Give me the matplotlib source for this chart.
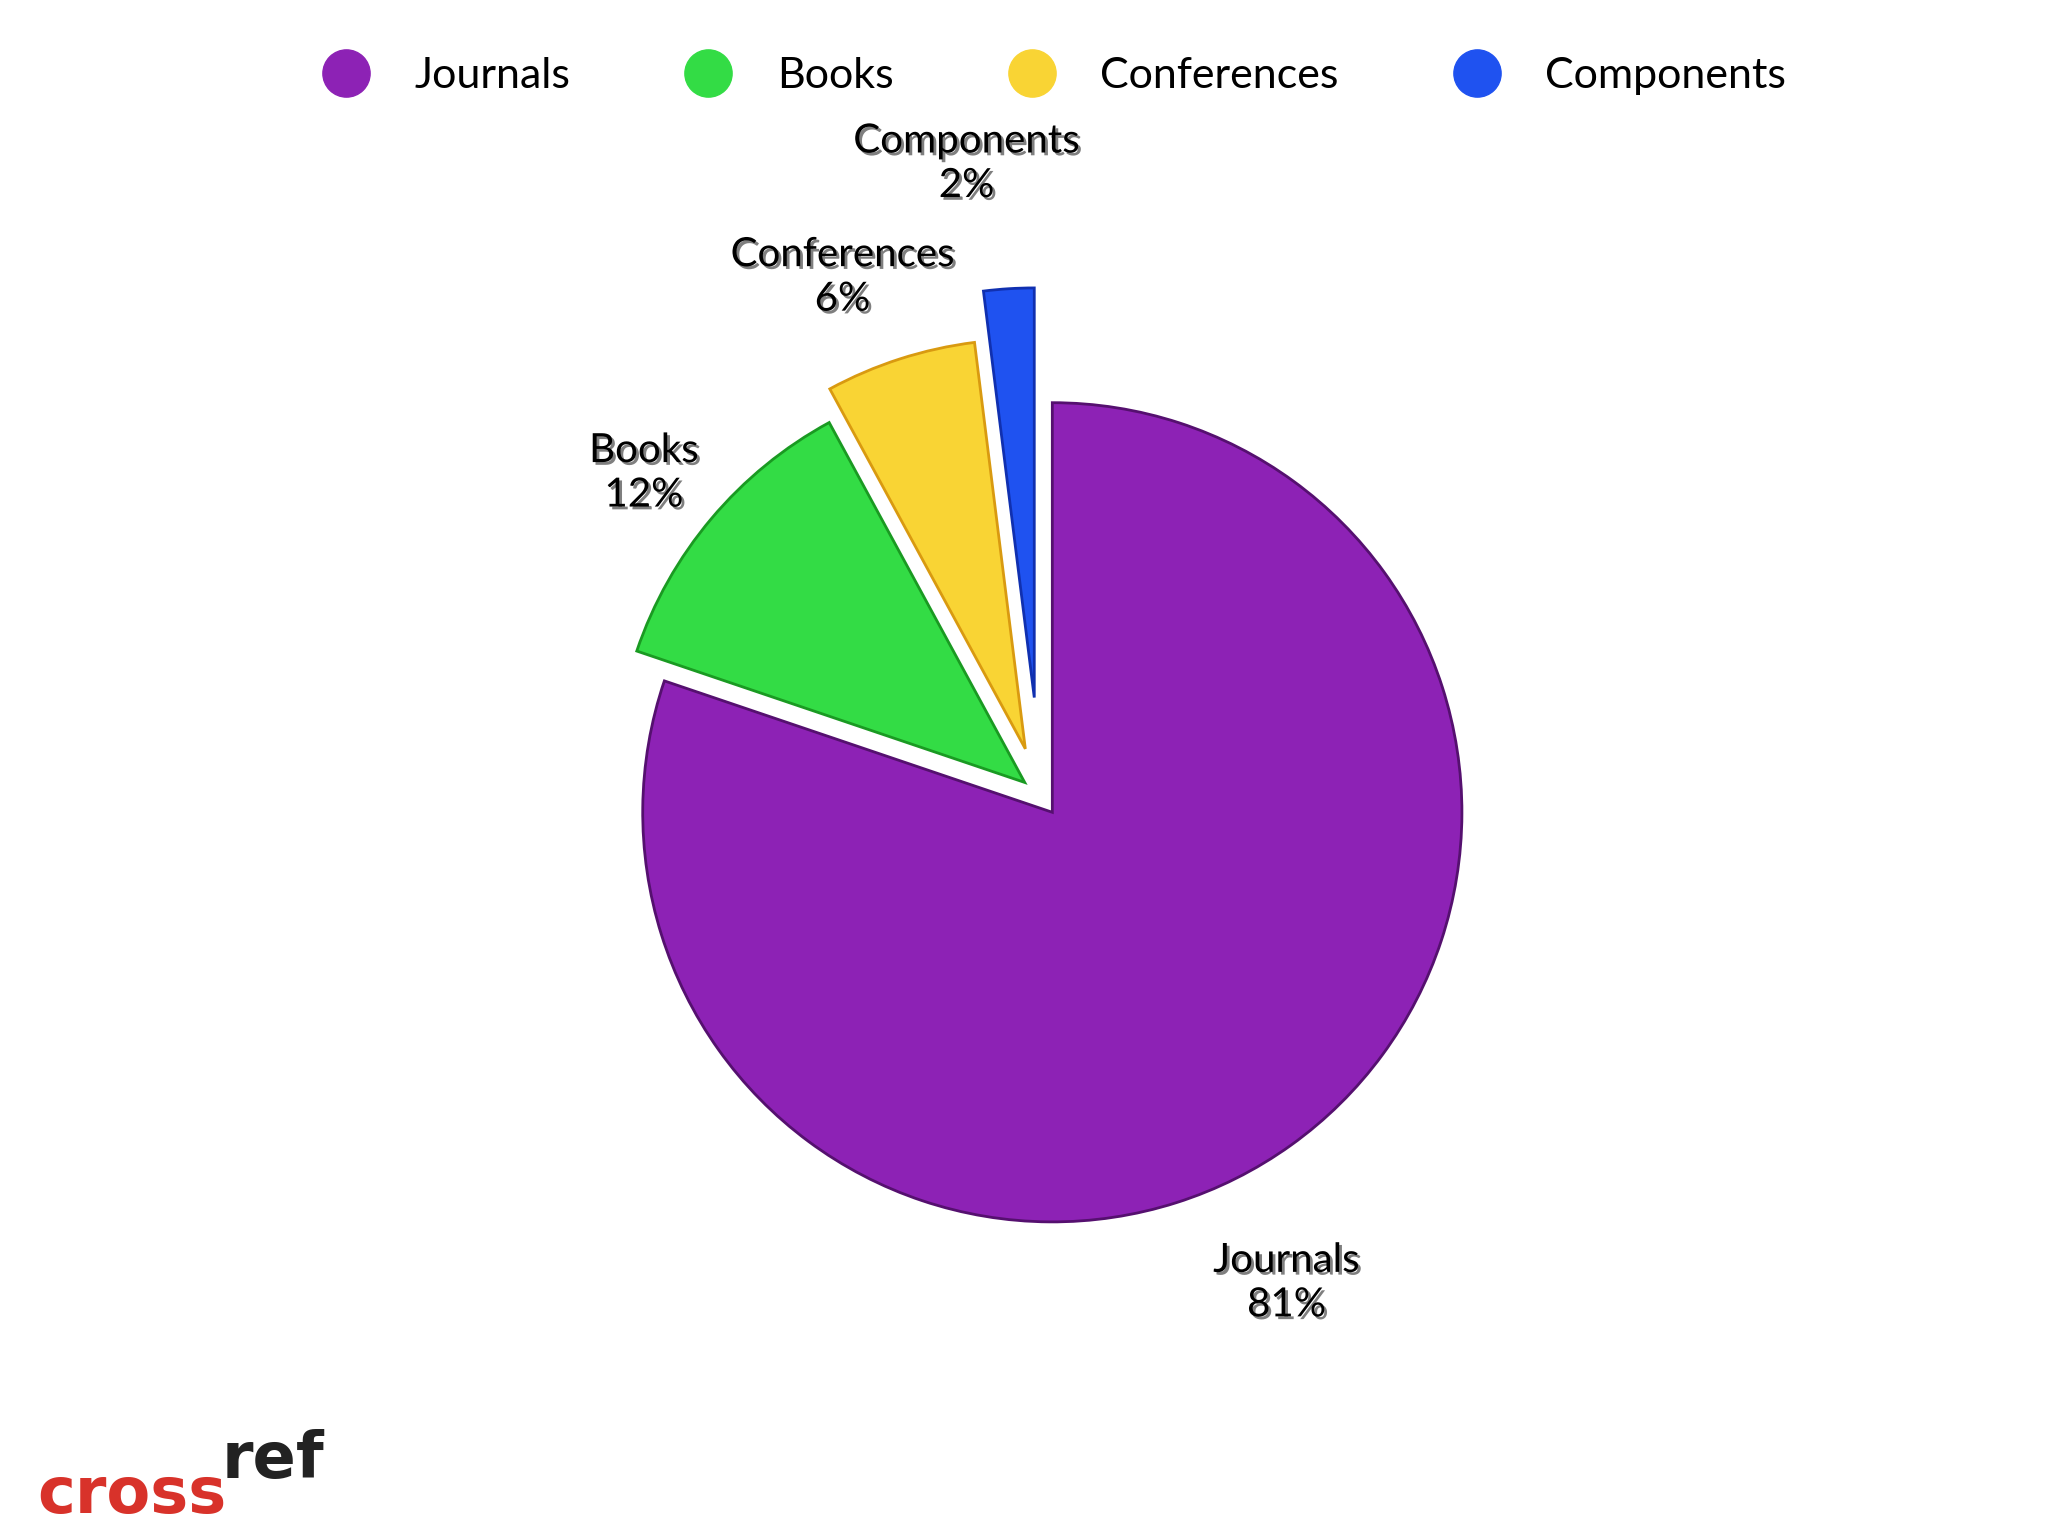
import matplotlib
matplotlib.use("Agg")
import matplotlib.pyplot as plt
import matplotlib.patheffects as pe
from matplotlib.lines import Line2D

categories = ["Journals", "Books", "Conferences", "Components"]
values = [81, 12, 6, 2]
colors = ["#8d22b5", "#33dc45", "#f9d434", "#1f52f0"]
explode = [0.05, 0.05, 0.12, 0.24]

fig = plt.figure(figsize=(20.48, 15.36), dpi=100)
fig.patch.set_facecolor("white")
ax = fig.add_axes([0.258, 0.148, 0.50, 0.668])
wedges, _ = ax.pie(values, colors=colors, startangle=90, counterclock=False,
                   explode=explode, wedgeprops=dict(edgecolor="#55106f", linewidth=2))
for w, c in zip(wedges[1:], ["#1a9a22", "#d99a10", "#1030b0"]):
    w.set_edgecolor(c)
ax.set_aspect("equal")

label_pos = [(985/1568, 1-982/1176), (493/1568, 1-362/1176), (645/1568, 1-212/1176), (740/1568, 1-125/1176)]
for cat, v, (x, y) in zip(categories, values, label_pos):
    fig.text(x, y, f"{cat}\n{v}%", ha="center", va="center", fontsize=29,
             family="Lato", linespacing=1.25, color="black",
             path_effects=[pe.withSimplePatchShadow(offset=(2, -2), alpha=0.5)])

handles = [Line2D([], [], marker="o", linestyle="", markersize=34, color=c) for c in colors]
fig.legend(handles, categories, loc="upper center", bbox_to_anchor=(0.51, 0.988), ncol=4,
           frameon=False, prop={"family": "Lato", "size": 31},
           columnspacing=2.2, handletextpad=0.6)

fig.text(0.018, 0.015, "cross", color="#d8322a", fontsize=46, fontweight="bold", family="DejaVu Sans")
fig.text(0.108, 0.038, "ref", color="#222222", fontsize=46, fontweight="bold", family="DejaVu Sans")

fig.savefig("out.png", dpi=100)
